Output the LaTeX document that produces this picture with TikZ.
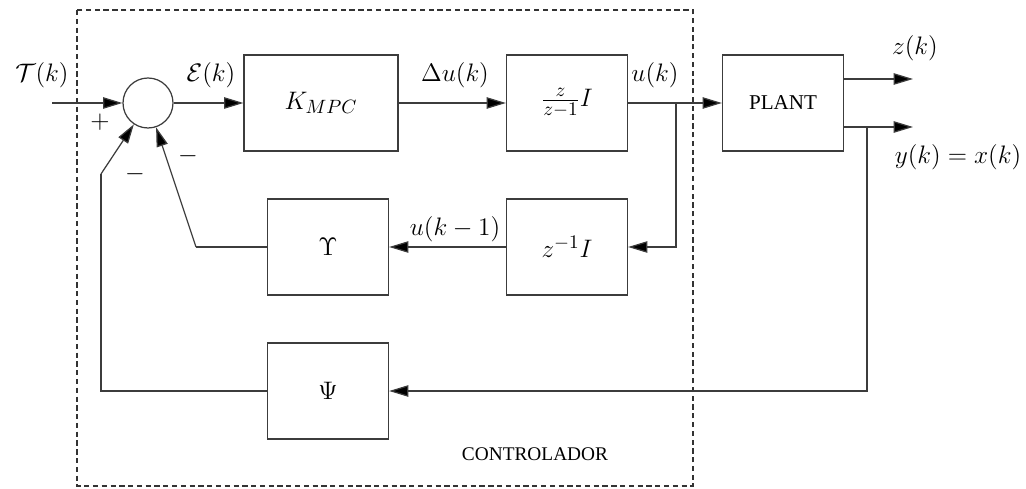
\documentclass[tikz,border=0pt]{standalone}
\usepackage{amsmath,amssymb}
\usepackage{fontspec}
\newfontfamily\timesfont{Liberation Serif}
\usetikzlibrary{positioning,arrows.meta}
\definecolor{linegray}{RGB}{60,60,60}
\tikzset{
  blk/.style={draw=linegray,line width=0.7pt,minimum width=2.42cm,minimum height=1.92cm,inner sep=0pt,font=\fontsize{15}{17}\selectfont},
  sumc/.style={circle,draw=linegray,line width=0.7pt,minimum size=1cm,inner sep=0pt},
  sig/.style={line width=0.7pt,draw=linegray,-{Triangle[length=11pt,width=6.5pt,fill=black]}},
  wire/.style={line width=0.7pt,draw=linegray},
  slab/.style={font=\fontsize{14.5}{16}\selectfont,inner sep=0pt},
  ctrl/.style={draw=black!80,line width=0.6pt,dash pattern=on 3pt off 2pt}
}
\begin{document}
\begin{tikzpicture}[x=0.02cm,y=-0.02cm]
  \useasboundingbox (0,0) rectangle (1026,489);
  % controller frame
  \draw[ctrl] (77,10) rectangle (693,486);
  \node[font=\timesfont\fontsize{11}{13}\selectfont] (ctrllab) at (535,454) {CONTROLADOR};
  % blocks
  \node[sumc] (sum) at (148,103) {};
  \node[blk,minimum width=3.08cm] (kmpc) at (321,103) {$K_{MPC}$};
  \node[blk] (integ) at (567,103) {$\frac{z}{z-1}I$};
  \node[blk] (plant) at (783,103) {\timesfont\fontsize{12}{14}\selectfont\raisebox{-2pt}{PLANT}};
  \node[blk] (delay) at (567,247) {$z^{-1}I$};
  \node[blk] (ups) at (328,247) {$\Upsilon$};
  \node[blk] (psi) at (328,391) {$\Psi$};
  % free ends and corners
  \coordinate (ref) at (52,103);
  \coordinate (zout) at (913,79); \coordinate (yout) at (913,127);
  \coordinate (ubr) at (676,103); \coordinate (ybr) at (867,127);
  \coordinate (psic) at (101,174); \coordinate (upsc) at (196,247);
  % forward path
  \draw[sig] (ref) -- (sum); \draw[sig] (sum) -- (kmpc); \draw[sig] (kmpc) -- (integ); \draw[sig] (integ) -- (plant);
  \draw[sig] (plant.east |- zout) -- (zout); \draw[sig] (plant.east |- yout) -- (yout);
  % feedback paths
  \draw[sig] (ubr) |- (delay); \draw[sig] (delay) -- (ups);
  \draw[wire] (ups) -- (upsc); \draw[sig] (upsc) -- (sum);
  \draw[sig] (ybr) |- (psi); \draw[wire] (psi) -| (psic); \draw[sig] (psic) -- (sum);
  % labels
  \node[slab] (reflab) at (42,75) {$\mathcal{T}(k)$};
  \node[slab] (errlab) at (211,75) {$\mathcal{E}(k)$};
  \node[slab] (dulab) at (455,75) {$\Delta u(k)$};
  \node[slab] (ulab) at (655,75) {$u(k)$};
  \node[slab] (zlab) at (915,48) {$z(k)$};
  \node[slab] (ylab) at (958,157) {$y(k)=x(k)$};
  \node[slab] (udlab) at (455,229) {$u(k-1)$};
  \node[slab] (plus) at (100,122) {$+$};
  \node[slab] (minA) at (135,174) {$-$};
  \node[slab] (minB) at (188,156) {$-$};
\end{tikzpicture}
\end{document}
